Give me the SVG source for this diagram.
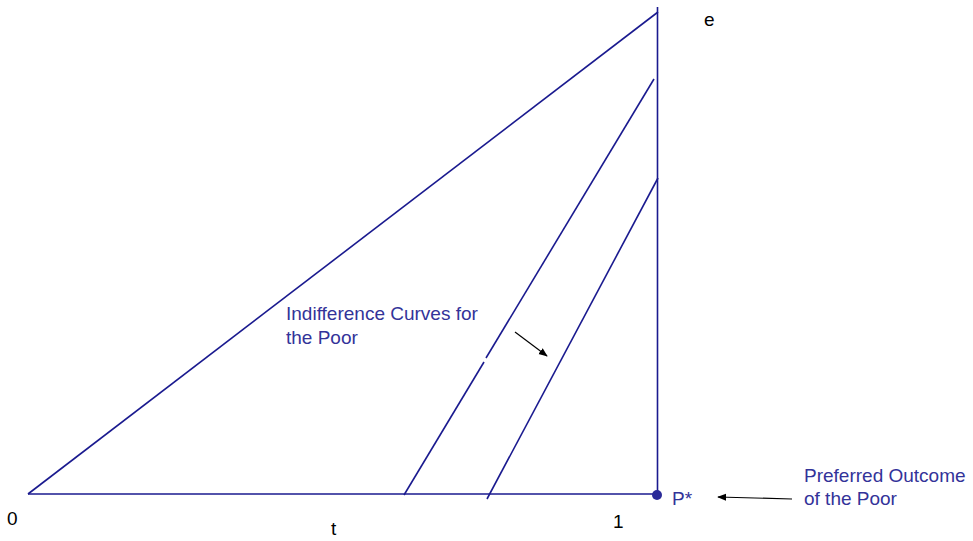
<svg xmlns="http://www.w3.org/2000/svg" width="973" height="541" viewBox="0 0 973 541">
<defs>
<marker id="ah" viewBox="0 0 10 10" refX="9" refY="5" markerWidth="9" markerHeight="9" markerUnits="userSpaceOnUse" orient="auto"><path d="M0,1 L10,5 L0,9 Z" fill="#000"/></marker>
<style>
.ax{stroke:#1a1a8f;stroke-width:1.6;fill:none}
.lb{font-family:"Liberation Sans",Arial,sans-serif;font-size:19px;fill:#000}
.bl{font-family:"Liberation Sans",Arial,sans-serif;font-size:19px;fill:#333399}
.ar{stroke:#000;stroke-width:1.2;fill:none;marker-end:url(#ah)}
</style>
</defs>
<rect width="973" height="541" fill="#fff"/>
<g id="connectors">
<line class="ax" x1="28" y1="494" x2="658" y2="494"/>
<line class="ax" x1="657.5" y1="7" x2="657.5" y2="494"/>
<line class="ax" x1="28" y1="494" x2="658" y2="12"/>
<line class="ax" x1="404" y1="495" x2="484" y2="362"/>
<line class="ax" x1="486" y1="358" x2="654" y2="79"/>
<line class="ax" x1="487" y1="499" x2="658" y2="178"/>
<line class="ar" x1="515" y1="332" x2="547" y2="356"/>
<line class="ar" x1="792" y1="499" x2="718" y2="497"/>
</g>
<g id="p-star"><circle cx="657" cy="495" r="5" fill="#2b2b99"/><text class="bl" x="672" y="505">P*</text></g>
<g id="label-e"><text class="lb" x="704" y="26">e</text></g>
<g id="label-0"><text class="lb" x="7" y="525">0</text></g>
<g id="label-t"><text class="lb" x="331" y="535">t</text></g>
<g id="label-1"><text class="lb" x="613" y="528">1</text></g>
<g id="indiff-label"><text class="bl" x="286" y="320">Indifference Curves for</text><text class="bl" x="286" y="344">the Poor</text></g>
<g id="pref-label"><text class="bl" x="804" y="482">Preferred Outcome</text><text class="bl" x="804" y="505">of the Poor</text></g>
</svg>
